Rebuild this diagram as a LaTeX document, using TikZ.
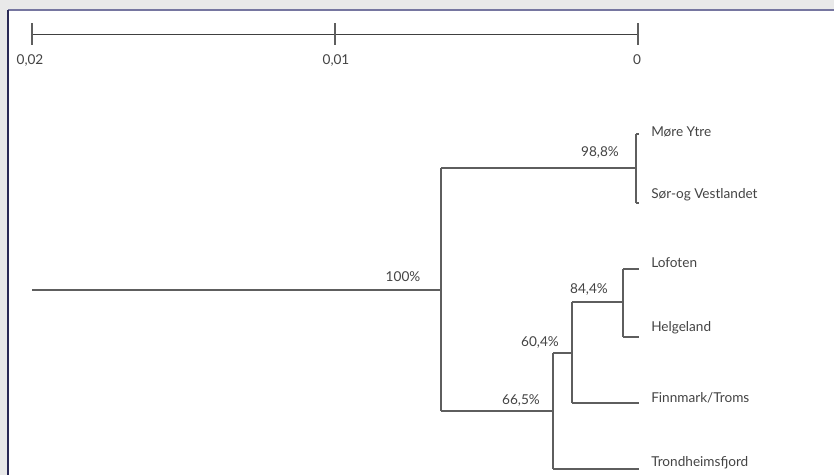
\documentclass[tikz,border=0pt]{standalone}
\usepackage{fontspec}
\setmainfont{Lato}
\definecolor{bggray}{HTML}{E9E9E9}
\definecolor{topblue}{HTML}{7676A0}
\definecolor{navy}{HTML}{2A2A55}
\definecolor{linegray}{HTML}{5E5E5E}
\definecolor{scalegray}{HTML}{404040}
\definecolor{textgray}{HTML}{444444}
\begin{document}
\begin{tikzpicture}[x=0.75pt,y=-0.75pt,
  branch/.style={draw=linegray, line width=0.85pt},
  scaleline/.style={draw=scalegray, line width=0.75pt},
  lab/.style={font=\fontsize{10.2}{12}\selectfont, text=textgray, inner sep=0pt},
  leaf/.style={lab, anchor=west}]
\useasboundingbox (0,0) rectangle (834,475);
\fill[bggray] (0,0) rectangle (834,475);
\fill[white] (8,10) rectangle (834,475);
\draw[topblue, line width=1.4pt] (8,10) -- (834,10);
\draw[navy, line width=1.4pt] (8,10) -- (8,475);

% scale bar
\coordinate (s0) at (32,34);
\coordinate (s1) at (335,34);
\coordinate (s2) at (638,34);
\draw[scaleline] (s0) -- (s2);
\foreach \s in {s0,s1,s2}{
  \draw[branch] ([yshift=8.25pt]\s) -- ([yshift=-8.25pt]\s);
}
\node[lab] (l0) at (30,60) {0,02};
\node[lab] (l1) at (336,60) {0,01};
\node[lab] (l2) at (637,60) {0};

% tree joints
\coordinate (root) at (32,290);
\coordinate (nA) at (441,290);
\coordinate (nB) at (636,168);
\coordinate (nC) at (553,411);
\coordinate (nD) at (572,353);
\coordinate (nE) at (623,302);

% leaf line ends
\coordinate (eMore) at (639,134);
\coordinate (eSor) at (639,203);
\coordinate (eLof) at (639,269);
\coordinate (eHel) at (639,337);
\coordinate (eFin) at (639,403);
\coordinate (eTro) at (639,469);

% leaf labels
\node[leaf] (tMore) at (651,132) {Møre Ytre};
\node[leaf] (tSor) at (651,195) {Sør-og Vestlandet};
\node[leaf] (tLof) at (651,263) {Lofoten};
\node[leaf] (tHel) at (651,328) {Helgeland};
\node[leaf] (tFin) at (651,398) {Finnmark/Troms};
\node[leaf] (tTro) at (651,463) {Trondheimsfjord};

% branches
\draw[branch] (root) -- (nA);
\draw[branch] (nA |- nB) -- (nA |- nC);
\draw[branch] (nA |- nB) -- (nB);
\draw[branch] (nB |- eMore) -- (nB |- eSor);
\draw[branch] (nB |- eMore) -- (eMore);
\draw[branch] (nB |- eSor) -- (eSor);
\draw[branch] (nA |- nC) -- (nC);
\draw[branch] (nC |- nD) -- (nC |- eTro);
\draw[branch] (nC |- eTro) -- (eTro);
\draw[branch] (nC |- nD) -- (nD);
\draw[branch] (nD |- nE) -- (nD |- eFin);
\draw[branch] (nD |- eFin) -- (eFin);
\draw[branch] (nD |- nE) -- (nE);
\draw[branch] (nE |- eLof) -- (nE |- eHel);
\draw[branch] (nE |- eLof) -- (eLof);
\draw[branch] (nE |- eHel) -- (eHel);

% support values
\node[lab] (p100) at (403,277) {100\%};
\node[lab] (p988) at (600,152) {98,8\%};
\node[lab] (p665) at (521,400) {66,5\%};
\node[lab] (p604) at (540,342) {60,4\%};
\node[lab] (p844) at (589,289) {84,4\%};
\end{tikzpicture}
\end{document}
